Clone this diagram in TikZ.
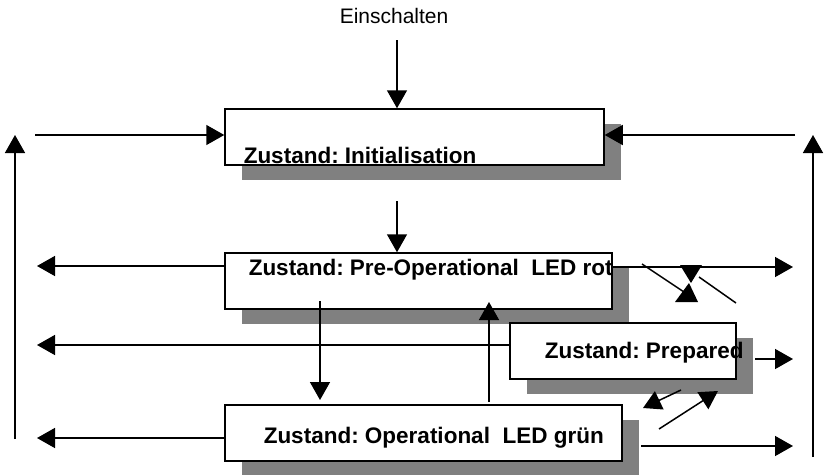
\documentclass[tikz,border=0pt]{standalone}
\usepackage{fontspec}
\setmainfont{Liberation Sans}
\usetikzlibrary{arrows.meta}
\definecolor{shadowgray}{HTML}{808080}
\frenchspacing
\begin{document}
\begin{tikzpicture}[x=1pt,y=-1pt,
  line width=1.5pt,
  arr/.style={-{Triangle[length=18pt,width=20pt]}},
  statebox/.style={draw=black,fill=white,rectangle,inner sep=0pt,line width=1.5pt},
  shadowbox/.style={fill=shadowgray,draw=none},
  lbl/.style={anchor=base west,inner sep=0pt,font=\fontsize{22.5}{26}\selectfont\bfseries},
  toplbl/.style={anchor=base west,inner sep=0pt,font=\fontsize{21}{25}\selectfont},
  tri/.style={fill=black,draw=none}]
\useasboundingbox (0,0) rectangle (827,474);
% shadows
\fill[shadowbox] (242,124) rectangle (621,180);
\fill[shadowbox] (242,268) rectangle (629,324);
\fill[shadowbox] (242,420) rectangle (639,476);
% boxes
\node[statebox,minimum width=379pt,minimum height=56pt] (init) at (414.5,137) {};
\node[statebox,minimum width=387pt,minimum height=56pt] (preop) at (418.5,281) {};
\fill[shadowbox] (527,338) rectangle (753,394);
\node[statebox,minimum width=226pt,minimum height=56pt] (prep) at (623,351) {};
\node[statebox,minimum width=397pt,minimum height=56pt] (op) at (423.5,433) {};
% labels
\node[toplbl] (ein) at (339,23) {Einschalten};
\node[lbl] (tinit) at (243,163) {Zustand: Initialisation};
\node[lbl] (tpreop) at (248,275) {Zustand: Pre-Operational\ \ LED rot};
\node[lbl] (tprep) at (544,358) {Zustand: Prepared};
\node[lbl] (top) at (263,443) {Zustand: Operational\ \ LED grün};
% free ends
\coordinate (einS) at (397,40);
\coordinate (initB) at (397,201);
\coordinate (initLs) at (35,135);
\coordinate (initRs) at (795,135);
\coordinate (lvB) at (15,439);
\coordinate (lvT) at (15,135);
\coordinate (rvB) at (813,457);
\coordinate (rvT) at (813,135);
\coordinate (preLt) at (37,266);
\coordinate (preRt) at (793,267);
\coordinate (prepLt) at (37,345);
\coordinate (prepRs) at (755,359);
\coordinate (prepRt) at (793,359);
\coordinate (opLt) at (37,438);
\coordinate (opRs) at (641,446);
\coordinate (opRt) at (793,446);
\coordinate (dnS) at (320,301);
\coordinate (dnT) at (320,400);
\coordinate (upS) at (489,402);
\coordinate (upT) at (489,302);
% main connectors
\draw[arr] (einS) -- (einS |- init.north);
\draw[arr] (initB) -- (initB |- preop.north);
\draw[arr] (initLs) -- (initLs -| init.west);
\draw[arr] (initRs) -- (initRs -| init.east);
\draw[arr] (lvB) -- (lvT);
\draw[arr] (rvB) -- (rvT);
\draw[arr] (preLt -| preop.west) -- (preLt);
\draw[arr] (preRt -| preop.east) -- (preRt);
\draw[arr] (prepLt -| prep.west) -- (prepLt);
\draw[arr] (prepRs) -- (prepRt);
\draw[arr] (opLt -| op.west) -- (opLt);
\draw[arr] (opRs) -- (opRt);
\draw[arr] (dnS) -- (dnT);
\draw[arr] (upS) -- (upT);
% crossing arrows near Pre-Operational
\coordinate (c1s) at (642,264);
\coordinate (c1e) at (684,292);
\coordinate (c2s) at (736,303);
\coordinate (c2e) at (699,277);
\draw (c1s) -- (c1e);
\draw (c2s) -- (c2e);
\fill[tri] (680,265) -- (702,265) -- (691,283) -- cycle;
\fill[tri] (675,302) -- (698,302) -- (689,283) -- cycle;
% small arrows between Prepared and Operational
\coordinate (s1s) at (681,390);
\coordinate (s1e) at (643,408);
\coordinate (s2s) at (659,429);
\coordinate (s2e) at (718,391);
\draw[arr] (s1s) -- (s1e);
\draw[arr] (s2s) -- (s2e);
\end{tikzpicture}
\end{document}
